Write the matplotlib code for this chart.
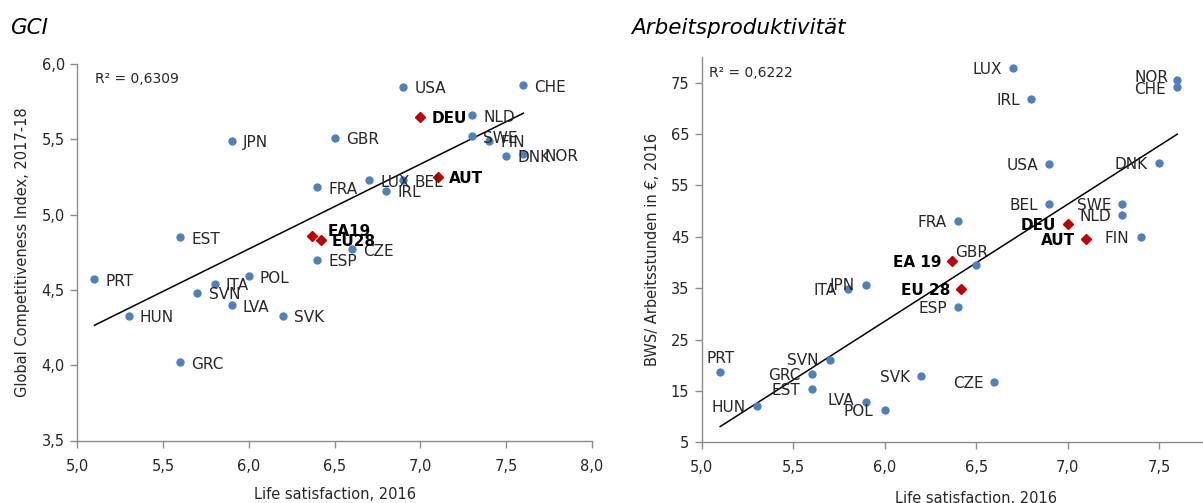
import numpy as np
import matplotlib
matplotlib.use("Agg")
import matplotlib.pyplot as plt
from matplotlib.ticker import FuncFormatter, MultipleLocator

plt.rcParams['font.family'] = ['DejaVu Sans']

# ---------------- data ----------------
countries = ["PRT", "HUN", "EST", "GRC", "SVN", "ITA", "JPN", "LVA", "POL", "SVK",
             "FRA", "ESP", "GBR", "CZE", "LUX", "IRL", "BEL", "USA", "NLD", "SWE",
             "FIN", "DNK", "CHE", "NOR"]
life_sat = [5.1, 5.3, 5.6, 5.6, 5.7, 5.8, 5.9, 5.9, 6.0, 6.2,
            6.4, 6.4, 6.5, 6.6, 6.7, 6.8, 6.9, 6.9, 7.3, 7.3,
            7.4, 7.5, 7.6, 7.6]
gci = [4.57, 4.33, 4.85, 4.02, 4.48, 4.54, 5.49, 4.40, 4.59, 4.33,
       5.18, 4.70, 5.51, 4.77, 5.23, 5.16, 5.23, 5.85, 5.66, 5.52,
       5.49, 5.39, 5.86, 5.40]
productivity = [18.6, 12.1, 15.4, 18.3, 21.1, 34.8, 35.7, 12.8, 11.2, 17.9,
                48.0, 31.3, 39.5, 16.8, 77.8, 71.8, 51.4, 59.2, 49.3, 51.4,
                45.0, 59.3, 74.2, 75.5]

# highlighted (red diamonds)
hl_names_left = ["DEU", "AUT", "EA19", "EU28"]
hl_names_right = ["DEU", "AUT", "EA 19", "EU 28"]
hl_life_sat = [7.0, 7.1, 6.37, 6.42]
hl_gci = [5.65, 5.25, 4.86, 4.83]
hl_productivity = [47.5, 44.5, 40.2, 34.8]
hl_is_country = [True, True, False, False]

r2_left = "R² = 0,6309"
r2_right = "R² = 0,6222"

title_left = "GCI"
title_right = "Arbeitsproduktivität"
ylabel_left = "Global Competitiveness Index, 2017-18"
ylabel_right = "BWS/ Arbeitsstunden in €, 2016"
xlabel = "Life satisfaction, 2016"

# ---------------- style ----------------
BLUE = "#4F81BD"
RED = "#C00000"
SPINE = "#8c8c8c"
TXT = "#262626"
LBL = 11

fig = plt.figure(figsize=(12.03, 5.03), dpi=100)
W, H = 1203, 503


def ax_from_px(x0, x1, ytop, ybot):
    return fig.add_axes([x0 / W, 1 - ybot / H, (x1 - x0) / W, (ybot - ytop) / H])


axL = ax_from_px(77.3, 592.0, 64.0, 440.5)
axR = ax_from_px(701.9, 1250.3, 57.0, 442.3)

comma1 = FuncFormatter(lambda v, p: f"{v:.1f}".replace(".", ","))
int_fmt = FuncFormatter(lambda v, p: f"{v:.0f}")


def style_axes(ax):
    for s in ["top", "right"]:
        ax.spines[s].set_visible(False)
    for s in ["left", "bottom"]:
        ax.spines[s].set_color(SPINE)
        ax.spines[s].set_linewidth(1.0)
    ax.tick_params(axis="both", direction="out", length=5, width=1.0, color=SPINE,
                   labelsize=10.5, labelcolor=TXT, pad=4)
    ax.tick_params(axis="x", pad=8)
    ax.set_facecolor("none")


def trend(ax, xs, ys):
    xs = np.asarray(xs)
    ys = np.asarray(ys)
    k, d = np.polyfit(xs, ys, 1)
    xx = np.array([xs.min(), xs.max()])
    ax.plot(xx, k * xx + d, color="black", lw=1.1, zorder=2)


# ---------------- left ----------------
style_axes(axL)
axL.set_xlim(5.0, 8.0)
axL.set_ylim(3.5, 6.0)
axL.xaxis.set_major_locator(MultipleLocator(0.5))
axL.yaxis.set_major_locator(MultipleLocator(0.5))
axL.xaxis.set_major_formatter(comma1)
axL.yaxis.set_major_formatter(comma1)

fit_x = life_sat + [x for x, c in zip(hl_life_sat, hl_is_country) if c]
fit_gci = gci + [y for y, c in zip(hl_gci, hl_is_country) if c]
fit_prod = productivity + [y for y, c in zip(hl_productivity, hl_is_country) if c]

trend(axL, fit_x, fit_gci)
axL.plot(life_sat, gci, "o", color=BLUE, ms=5, zorder=3, clip_on=False)
axL.plot(hl_life_sat, hl_gci, "D", color=RED, ms=5, zorder=3, clip_on=False)

left_off = {"NOR": (15, -1.5), "EA19": (11, 3)}
for n, x, y in zip(countries, life_sat, gci):
    dx, dy = left_off.get(n, (8, -1.5))
    axL.annotate(n, (x, y), xytext=(dx, dy), textcoords="offset points",
                 ha="left", va="center", fontsize=LBL, color=TXT, zorder=4)
for n, x, y in zip(hl_names_left, hl_life_sat, hl_gci):
    dx, dy = left_off.get(n, (8, -1.0))
    axL.annotate(n, (x, y), xytext=(dx, dy), textcoords="offset points",
                 ha="left", va="center", fontsize=LBL, color="black",
                 fontweight="bold", zorder=4)

axL.text(95 / W, 1 - 79 / H, r2_left, transform=fig.transFigure,
         ha="left", va="center", fontsize=10, color=TXT)
axL.set_ylabel(ylabel_left, fontsize=10.5, color=TXT, labelpad=8)
axL.set_xlabel(xlabel, fontsize=10.5, color=TXT, labelpad=10)

# ---------------- right ----------------
style_axes(axR)
axR.set_xlim(5.0, 8.0)
axR.set_ylim(5, 80)
axR.set_xticks(np.arange(5.0, 7.51, 0.5))
axR.set_yticks(np.arange(5, 80, 10))
axR.xaxis.set_major_formatter(comma1)
axR.yaxis.set_major_formatter(int_fmt)

trend(axR, fit_x, fit_prod)
axR.plot(life_sat, productivity, "o", color=BLUE, ms=5, zorder=3, clip_on=False)
axR.plot(hl_life_sat, hl_productivity, "D", color=RED, ms=5, zorder=3, clip_on=False)

right_off = {"NOR": (-6, 2), "CHE": (-8, -2), "PRT": (0, 10), "GBR": (-3, 9),
             "LVA": (-9, 1)}
for n, x, y in zip(countries, life_sat, productivity):
    dx, dy = right_off.get(n, (-8, -1.0))
    if n in ("PRT", "GBR"):
        ha, va = "center", "center"
    else:
        ha, va = "right", "center"
    axR.annotate(n, (x, y), xytext=(dx, dy), textcoords="offset points",
                 ha=ha, va=va, fontsize=LBL, color=TXT, zorder=4)
for n, x, y in zip(hl_names_right, hl_life_sat, hl_productivity):
    axR.annotate(n, (x, y), xytext=(-8, -1.0), textcoords="offset points",
                 ha="right", va="center", fontsize=LBL, color="black",
                 fontweight="bold", zorder=4)

axR.text(709 / W, 1 - 72.7 / H, r2_right, transform=fig.transFigure,
         ha="left", va="center", fontsize=10, color=TXT)
axR.set_ylabel(ylabel_right, fontsize=10.5, color=TXT, labelpad=8)
axR.set_xlabel(xlabel, fontsize=10.5, color=TXT, labelpad=11.5)

# ---------------- titles ----------------
fig.text(10 / W, 1 - 33.5 / H, title_left, ha="left", va="baseline",
         fontsize=15.5, style="italic", color="black")
fig.text(631 / W, 1 - 33.5 / H, title_right, ha="left", va="baseline",
         fontsize=15.5, style="italic", color="black")

fig.savefig("out.png", dpi=100)
